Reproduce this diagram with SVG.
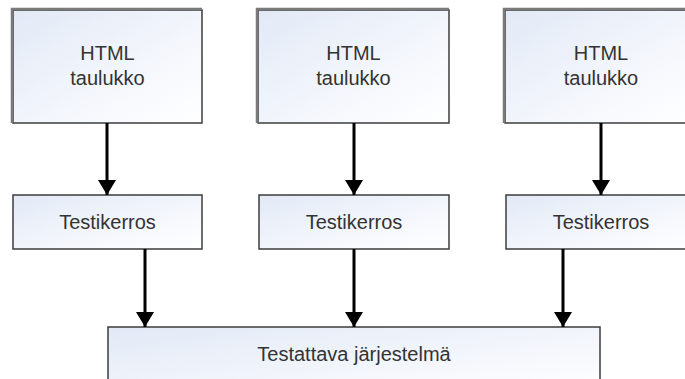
<svg xmlns="http://www.w3.org/2000/svg" width="685" height="379" viewBox="0 0 685 379">
  <defs>
    <linearGradient id="boxFill" x1="0" y1="0" x2="1" y2="1">
      <stop offset="0" stop-color="#e2e9f6"/>
      <stop offset="0.7" stop-color="#f7f9fd"/>
      <stop offset="1" stop-color="#ffffff"/>
    </linearGradient>
    <marker id="arrowHead" viewBox="0 0 15 18" refX="15" refY="9" markerWidth="15" markerHeight="18" markerUnits="userSpaceOnUse" orient="auto">
      <path d="M0,0 L15,9 L0,18 Z" fill="#000"/>
    </marker>
  </defs>
  <style>
    .box { fill: url(#boxFill); stroke: #3c3c3c; stroke-width: 1.5; }
    .edge { fill: none; stroke: #7a7a7a; stroke-width: 2.5; }
    .label { font-family: "Liberation Sans", Arial, sans-serif; font-size: 20px; fill: #333; text-anchor: middle; }
    .conn { stroke: #000; stroke-width: 3; fill: none; marker-end: url(#arrowHead); }
  </style>
  <rect width="685" height="379" fill="#fff"/>

  <!-- source tables -->
  <g id="html1">
    <rect class="box" x="13" y="10" width="189" height="113"/>
    <path class="edge" d="M12,123 V9 H202"/>
    <text class="label" x="107.5" y="60">HTML</text>
    <text class="label" x="107.5" y="85">taulukko</text>
  </g>
  <g id="html2">
    <rect class="box" x="258" y="10" width="191" height="113"/>
    <path class="edge" d="M257,123 V9 H449"/>
    <text class="label" x="353.5" y="60">HTML</text>
    <text class="label" x="353.5" y="85">taulukko</text>
  </g>
  <g id="html3">
    <rect class="box" x="505" y="10" width="192" height="113"/>
    <path class="edge" d="M504,123 V9 H697"/>
    <text class="label" x="601" y="60">HTML</text>
    <text class="label" x="601" y="85">taulukko</text>
  </g>

  <!-- test layers -->
  <g id="layer1">
    <rect class="box" x="13" y="195" width="189" height="54"/>
    <text class="label" x="107.5" y="229">Testikerros</text>
  </g>
  <g id="layer2">
    <rect class="box" x="259" y="195" width="190" height="54"/>
    <text class="label" x="354" y="229">Testikerros</text>
  </g>
  <g id="layer3">
    <rect class="box" x="506" y="195" width="192" height="54"/>
    <text class="label" x="601" y="229">Testikerros</text>
  </g>

  <!-- system under test -->
  <g id="system">
    <rect class="box" x="108" y="327" width="492" height="70"/>
    <text class="label" x="354" y="361">Testattava järjestelmä</text>
  </g>

  <g id="connectors">
    <line class="conn" x1="107" y1="123" x2="107" y2="195"/>
    <line class="conn" x1="354" y1="123" x2="354" y2="195"/>
    <line class="conn" x1="601" y1="123" x2="601" y2="195"/>
    <line class="conn" x1="145" y1="249" x2="145" y2="327"/>
    <line class="conn" x1="354" y1="249" x2="354" y2="327"/>
    <line class="conn" x1="563" y1="249" x2="563" y2="327"/>
  </g>
</svg>
